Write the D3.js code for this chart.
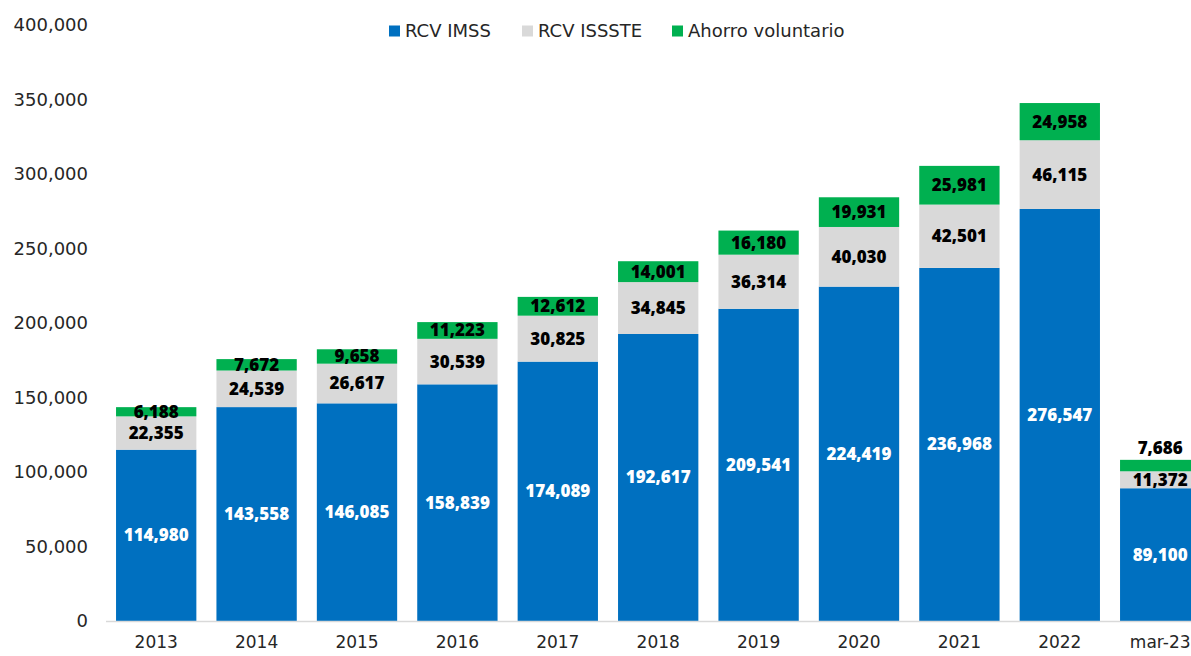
<!DOCTYPE html>
<html><head><meta charset="utf-8">
<script src="https://cdn.jsdelivr.net/npm/d3@7"></script>
<style>body{margin:0;background:#fff;overflow:hidden}svg{display:block}</style>
</head><body><svg id="c" width="1191" height="656"></svg>
<script>
const categories = ["2013","2014","2015","2016","2017","2018","2019","2020","2021","2022","mar-23"];
const rcvImss   = [114980,143558,146085,158839,174089,192617,209541,224419,236968,276547,89100];
const rcvIssste = [22355,24539,26617,30539,30825,34845,36314,40030,42501,46115,11372];
const ahorroVol = [6188,7672,9658,11223,12612,14001,16180,19931,25981,24958,7686];
const seriesNames = ["RCV IMSS","RCV ISSSTE","Ahorro voluntario"];
const seriesColors = ["#0070C0","#D9D9D9","#00B050"];
const labelColors = ["#ffffff","#000000","#000000"];
const yTicks = [0,50000,100000,150000,200000,250000,300000,350000,400000];

const svg = d3.select("#c");
const fmt = d3.format(",");
const table = categories.map((c,i)=>({cat:c, s0:rcvImss[i], s1:rcvIssste[i], s2:ahorroVol[i]}));
const stack = d3.stack().keys(["s0","s1","s2"])(table);

const x = d3.scaleBand().domain(categories).range([106, 1210.4]).paddingInner(0.2).paddingOuter(0.1);
const y = d3.scaleLinear().domain([0,400000]).range([621, 25]);

// y axis labels
const yAxis = svg.append("g").attr("transform","translate(88,0)")
  .call(d3.axisLeft(y).tickValues(yTicks).tickFormat(fmt).tickSize(0).tickPadding(0));
yAxis.select(".domain").remove();
yAxis.selectAll("text").attr("font-family","DejaVu Sans").attr("font-size",18).attr("fill","#262626");

// bars
stack.forEach((layer,k)=>{
  svg.append("g").selectAll("rect").data(layer).join("rect")
    .attr("x",d=>x(d.data.cat)).attr("width",x.bandwidth())
    .attr("y",d=>y(d[1])).attr("height",d=>y(d[0])-y(d[1]))
    .attr("fill",seriesColors[k]);
});

// baseline
svg.append("line").attr("x1",106).attr("x2",1191).attr("y1",621.5).attr("y2",621.5)
  .attr("stroke","#d9d9d9").attr("stroke-width",1.5);

// x axis
const xAxis = svg.append("g").attr("transform","translate(0,622)")
  .call(d3.axisBottom(x).tickSize(0).tickPadding(14));
xAxis.select(".domain").remove();
xAxis.selectAll("text").attr("font-family","DejaVu Sans").attr("font-size",17).attr("fill","#262626");

// labels
const last = categories[categories.length-1];
stack.forEach((layer,k)=>{
  svg.append("g").selectAll("text").data(layer).join("text")
    .attr("x",d=>x(d.data.cat)+x.bandwidth()/2)
    .attr("y",d=>{
      if(k===2 && d.data.cat===last) return y(d[1]) - 12;
      return (y(d[0])+y(d[1]))/2;
    })
    .attr("dy","0.35em")
    .attr("text-anchor","middle")
    .attr("font-family","Open Sans").attr("font-weight",800).attr("font-size",17)
    .attr("fill",labelColors[k])
    .text(d=>fmt(d[1]-d[0]));
});

// legend
const legX = [389,522,672];
seriesNames.forEach((n,i)=>{
  const g = svg.append("g").attr("transform",`translate(${legX[i]},31)`);
  g.append("rect").attr("x",0).attr("y",-5.5).attr("width",11).attr("height",11).attr("fill",seriesColors[i]);
  g.append("text").attr("x",16).attr("y",0).attr("dy","0.36em")
    .attr("font-family","DejaVu Sans").attr("font-size",18).attr("fill","#262626").text(n);
});
</script></body></html>
